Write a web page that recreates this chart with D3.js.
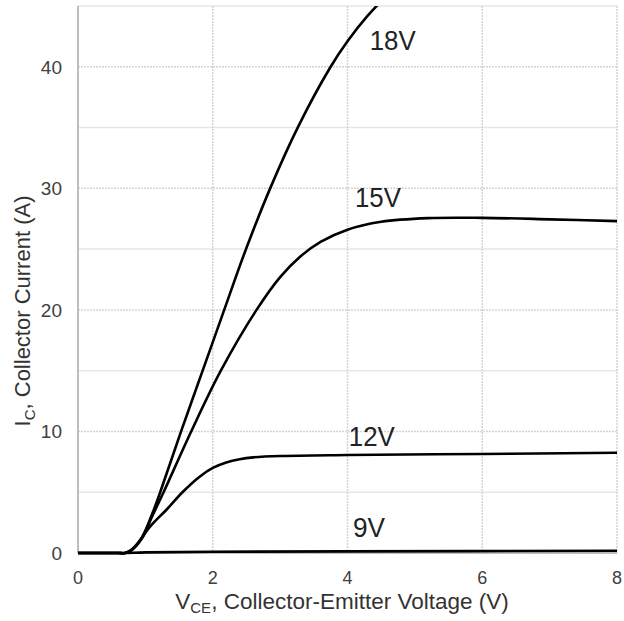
<!DOCTYPE html>
<html><head><meta charset="utf-8">
<script src="https://cdn.jsdelivr.net/npm/d3@7"></script>
<style>body{margin:0;background:#fff}svg{display:block}text{font-family:"Liberation Sans",Arial,sans-serif}</style>
</head><body>
<svg id="c" width="624" height="621"></svg>
<script>
const xTicks = [0, 2, 4, 6, 8];
const yTicks = [0, 10, 20, 30, 40];
const yMinor = [5, 15, 25, 35, 45];
const v18 = [[0,0],[0.4,0],[0.6,0],[0.7,0],[0.8,0.25],[0.95,1.3],[1.1,3.2],[1.22,5],[1.53,10],[1.85,15],[2.17,20],[2.49,24.95],[2.86,30.1],[3.27,35.1],[3.75,40.0],[4.0,42.1],[4.3,44.2],[4.54,45.6],[4.8,46.9]];
const v15 = [[0,0],[0.4,0],[0.6,0],[0.7,0],[0.8,0.25],[0.95,1.2],[1.1,3],[1.27,5],[1.68,10],[2.12,15],[2.65,20],[3.0,22.7],[3.3,24.4],[3.6,25.6],[4.0,26.6],[4.5,27.25],[5.2,27.55],[6,27.57],[7,27.45],[8,27.3]];
const v12 = [[0,0],[0.4,0],[0.6,0],[0.7,0],[0.8,0.3],[0.9,0.9],[1.07,2.17],[1.32,3.6],[1.55,5],[1.81,6.3],[2.0,7.0],[2.2,7.45],[2.4,7.72],[2.6,7.87],[3,7.98],[4,8.06],[6,8.15],[8,8.25]];
const v9 = [[0,0],[0.4,0],[0.6,0],[0.7,0],[1,0.05],[2,0.1],[4,0.13],[8,0.18]];
const labels = [{t:"18V",x:4.33,y:41.4},{t:"15V",x:4.11,y:28.5},{t:"12V",x:4.02,y:8.8},{t:"9V",x:4.08,y:1.3}];

const svg = d3.select("#c");
const L=78,R=617,T=6,B=553;
const x = d3.scaleLinear().domain([0,8]).range([L,R]);
const y = d3.scaleLinear().domain([0,45]).range([B,T]);

// minor grid
svg.append("g").selectAll("line").data(yMinor).join("line")
  .attr("x1",L).attr("x2",R).attr("y1",d=>y(d)).attr("y2",d=>y(d))
  .attr("stroke","#e6e6e6").attr("stroke-width",1.5);
// major grid
svg.append("g").selectAll("line").data(yTicks.slice(1)).join("line")
  .attr("x1",L).attr("x2",R).attr("y1",d=>y(d)).attr("y2",d=>y(d))
  .attr("stroke","#d4d4d4").attr("stroke-width",1.5).attr("stroke-dasharray","2,1");
svg.append("g").selectAll("line").data(xTicks.slice(1)).join("line")
  .attr("y1",T).attr("y2",B).attr("x1",d=>x(d)).attr("x2",d=>x(d))
  .attr("stroke","#d4d4d4").attr("stroke-width",1.5).attr("stroke-dasharray","2,1");
// axes lines
svg.append("line").attr("x1",L).attr("x2",L).attr("y1",T).attr("y2",B).attr("stroke","#bdbdbd").attr("stroke-width",2);
svg.append("line").attr("x1",L).attr("x2",R).attr("y1",B).attr("y2",B).attr("stroke","#bdbdbd").attr("stroke-width",2);

// tick labels
svg.append("g").selectAll("text").data(yTicks).join("text")
  .attr("x",L-16).attr("y",d=>y(d)).attr("dy","0.36em").attr("text-anchor","end")
  .attr("font-size",19).attr("fill","#404040").text(d=>d);
svg.append("g").selectAll("text").data(xTicks).join("text")
  .attr("x",d=>x(d)).attr("y",B+31).attr("text-anchor","middle")
  .attr("font-size",18).attr("fill","#404040").text(d=>d);

// curves
svg.append("clipPath").attr("id","cp").append("rect").attr("x",L).attr("y",T).attr("width",R-L).attr("height",B-T+3);
const line = d3.line().x(d=>x(d[0])).y(d=>y(d[1])).curve(d3.curveCatmullRom.alpha(0.5));
svg.append("g").attr("clip-path","url(#cp)").selectAll("path").data([v18,v15,v12,v9]).join("path")
  .attr("d",line).attr("fill","none").attr("stroke","#000").attr("stroke-width",2.6);

svg.append("g").selectAll("text").data(labels).join("text")
  .attr("x",d=>x(d.x)).attr("y",d=>y(d.y)).attr("font-size",28).attr("fill","#222")
  .attr("textLength",d=>d.t.length===3?46:32).attr("lengthAdjust","spacingAndGlyphs").text(d=>d.t);

// axis titles
const yt = svg.append("text").attr("transform","translate(30,311) rotate(-90)")
  .attr("text-anchor","middle").attr("font-size",22).attr("fill","#333");
yt.append("tspan").text("I");
yt.append("tspan").attr("font-size",15).attr("dy",5).text("C");
yt.append("tspan").attr("dy",-5).text(", Collector Current (A)");
const xt = svg.append("text").attr("x",342).attr("y",609).attr("text-anchor","middle").attr("font-size",22.5).attr("fill","#333");
xt.append("tspan").text("V");
xt.append("tspan").attr("font-size",15).attr("dy",4).text("CE");
xt.append("tspan").attr("dy",-4).text(", Collector-Emitter Voltage (V)");
</script>
</body></html>
